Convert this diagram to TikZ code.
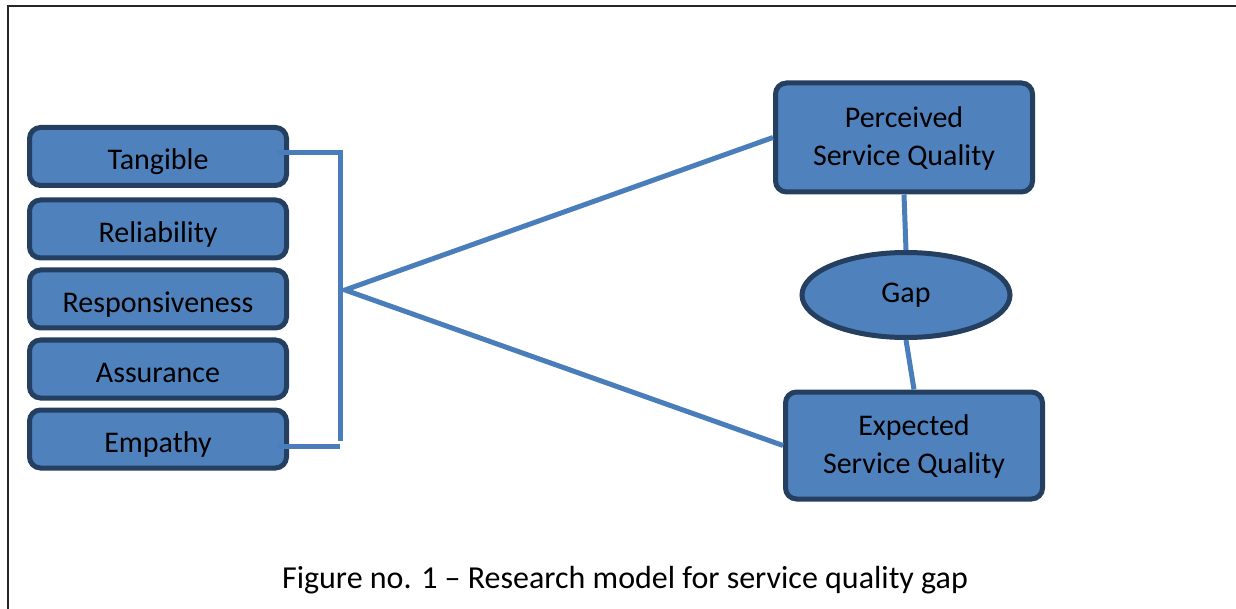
\documentclass[tikz,border=0pt]{standalone}
\usepackage{fontspec}
\setmainfont{Carlito}
\usetikzlibrary{shapes.geometric}

\definecolor{boxfill}{HTML}{4F81BD}
\definecolor{boxline}{HTML}{243F60}
\definecolor{linkcol}{HTML}{4A7EBB}

\tikzset{
  dim/.style={draw=boxline, line width=5pt, fill=boxfill, rounded corners=11pt,
    minimum width=257pt, minimum height=58pt, inner sep=0pt,
    text height=27pt, text depth=0pt, font=\fontsize{30}{38}\selectfont},
  sq/.style={dim, align=center, minimum height=109pt, text height=, text depth=3pt},
  link/.style={draw=linkcol, line width=5pt}
}

\begin{document}
\begin{tikzpicture}[x=1pt, y=-1pt]
        \useasboundingbox (0,0) rectangle (1236,609);
        % frame around the figure
        \draw[line width=2pt, black!85] (1236,6.5) -- (8,6.5) -- (8,609);
        % service quality dimensions
        \node[dim] (tang) at (158,156.5) {Tangible};
        \node[dim] (rel) at (158,229) {Reliability};
        \node[dim] (resp) at (158,299) {Responsiveness};
        \node[dim] (ass) at (158,369) {Assurance};
        \node[dim] (emp) at (158,439) {Empathy};
        % perceived / expected quality and the gap
        \node[sq] (perc) at (904,137.5) {Perceived\\Service Quality};
        \node[sq, minimum height=107pt] (expc) at (914,445.5) {Expected\\Service Quality};
        \node[ellipse, draw=boxline, line width=5pt, fill=boxfill, minimum width=208pt,
          minimum height=85pt, inner sep=0pt, font=\fontsize{30}{38}\selectfont]
          (gap) at (906,295) {Gap};
        % bracket joining the dimensions
        \coordinate (brtop) at (340,153); \coordinate (brbot) at (340,446);
        \coordinate (K) at (345,290);
        \draw[link] ([xshift=-12pt,yshift=3.5pt]tang.east) -- (brtop) -- ([yshift=5pt]brbot);
        \draw[link] ([xshift=-12pt,yshift=-7pt]emp.east) -- (brbot);
        % links to the two quality boxes
        \draw[link] (perc.west) -- (K) -- (expc.west);
        \draw[link] (perc.south) -- (gap.north); \draw[link] (gap.south) -- (expc.north);
        \node[font=\fontsize{32}{38}\selectfont] (cap) at (625,580)
          {Figure no. 1 -- Research model for service quality gap};
    \end{tikzpicture}
\end{document}
